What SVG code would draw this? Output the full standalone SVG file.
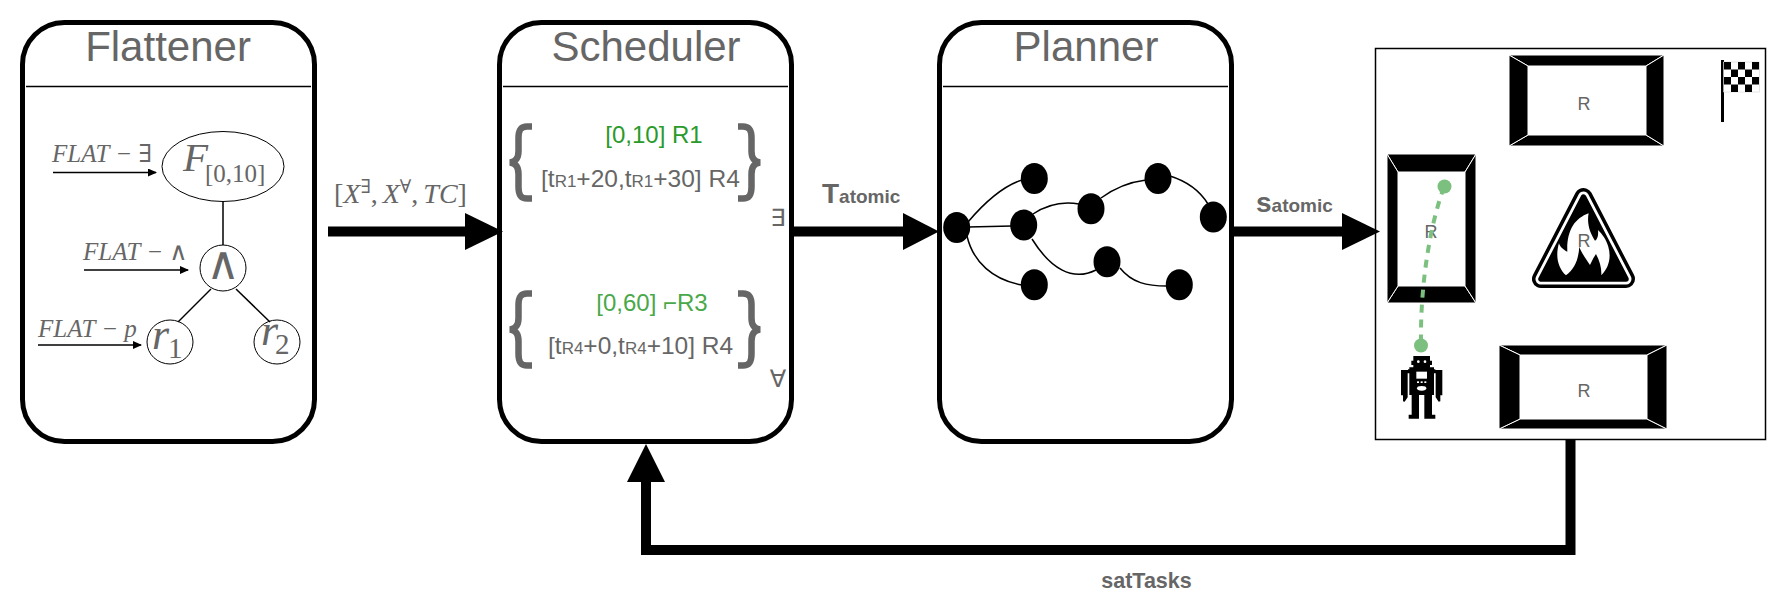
<svg xmlns="http://www.w3.org/2000/svg" width="1780" height="608" viewBox="0 0 1780 608">
<style>
text{font-family:"Liberation Sans",Arial,sans-serif;fill:#666}
.title{font-size:42px;text-anchor:middle}
.box{fill:#fff;stroke:#000;stroke-width:5}
.rule{stroke:#000;stroke-width:1.5;fill:none}
.thin{stroke:#000;stroke-width:1.5;fill:none}
.m{font-family:"Liberation Serif","DejaVu Serif",serif;font-style:italic}
.u{font-family:"Liberation Serif","DejaVu Serif",serif;font-style:normal}
.o{fill:#fff;stroke:#000;stroke-width:1}
.t24{font-size:24px}
.t245{font-size:24.5px}
.sub{font-size:17px}
.brace{fill:none;stroke:#666;stroke-width:6.5}
.shaft{stroke:#000;stroke-width:10;fill:none}
.head{fill:#000;stroke:none}
.bev{fill:#000;stroke:#fff;stroke-width:1}
.R{font-size:18px;text-anchor:middle}
.pn{fill:#000}
.pe{fill:none;stroke:#000;stroke-width:1.5}
.bold{font-weight:bold}
</style>
<defs>
<marker id="small" markerWidth="9" markerHeight="9" refX="8" refY="4" orient="auto" markerUnits="userSpaceOnUse"><path d="M0 0L9 4L0 8Z" fill="#000"/></marker>
<path id="brace" class="brace" d="M532 126.500H527C520 126.500 518.500 131 518.500 138V151C518.500 158 516 161.500 510 162.500C516 163.500 518.500 167 518.500 174V187C518.500 194 520 198.500 527 198.500H532"/>
</defs>
<g id="flattener">
<rect class="box" x="22.5" y="22.5" width="292" height="419" rx="42" ry="42"/>
<text class="title" x="168" y="61">Flattener</text>
<line class="rule" x1="26" y1="86.5" x2="311" y2="86.5"/>
<ellipse class="o" cx="223" cy="166.5" rx="61" ry="35"/>
<line class="thin" x1="223" y1="201" x2="223" y2="245"/>
<circle class="o" cx="223" cy="268" r="23"/>
<ellipse class="o" cx="170" cy="342" rx="23" ry="22"/>
<ellipse class="o" cx="277" cy="342" rx="23" ry="22"/>
<line class="thin" x1="211" y1="289" x2="178" y2="322"/>
<line class="thin" x1="236" y1="289" x2="270" y2="322"/>
<line class="thin" x1="53" y1="172.5" x2="156" y2="172.5" marker-end="url(#small)"/>
<line class="thin" x1="84" y1="270" x2="188" y2="270" marker-end="url(#small)"/>
<line class="thin" x1="38" y1="345" x2="141" y2="345" marker-end="url(#small)"/>
<text class="m" x="52" y="162" font-size="25">FLAT − ∃</text>
<text class="m" x="83" y="260" font-size="25">FLAT − ∧</text>
<text class="m" x="38" y="337" font-size="25">FLAT − p</text>
<text class="m" x="183" y="171" font-size="41">F</text>
<text class="u" x="205" y="182" font-size="25">[0,10]</text>
<text class="u" x="223" y="279" font-size="46" text-anchor="middle">∧</text>
<text class="m" x="152" y="349" font-size="44">r</text>
<text class="u" x="168" y="358" font-size="29">1</text>
<text class="m" x="261" y="345" font-size="44">r</text>
<text class="u" x="275" y="354" font-size="29">2</text>
</g>
<g id="scheduler">
<rect class="box" x="499.5" y="22.5" width="292" height="419" rx="42" ry="42"/>
<text class="title" x="646" y="61">Scheduler</text>
<line class="rule" x1="503" y1="86.5" x2="788" y2="86.5"/>
<use href="#brace"/>
<use href="#brace" transform="translate(1270 0) scale(-1 1)"/>
<use href="#brace" transform="translate(0 167)"/>
<use href="#brace" transform="translate(1270 167) scale(-1 1)"/>
<text class="t24" x="654" y="143" text-anchor="middle" style="fill:#2a9a2a">[0,10] R1</text>
<text class="t245" x="541" y="187">[t<tspan class="sub">R1</tspan>+20,t<tspan class="sub">R1</tspan>+30] R4</text>
<text class="t24" x="652" y="311" text-anchor="middle" style="fill:#4aa84a">[0,60] ⌐R3</text>
<text class="t245" x="548" y="354">[t<tspan class="sub">R4</tspan>+0,t<tspan class="sub">R4</tspan>+10] R4</text>
<text x="778" y="226" font-size="24" text-anchor="middle" style="font-family:'DejaVu Sans',sans-serif">∃</text>
<text x="778" y="387" font-size="24" text-anchor="middle" style="font-family:'DejaVu Sans',sans-serif">∀</text>
</g>
<g id="planner">
<rect class="box" x="939.500" y="22.500" width="292" height="419" rx="42" ry="42"/>
<text class="title" x="1086" y="61">Planner</text>
<line class="rule" x1="943" y1="86.500" x2="1228" y2="86.500"/>
<g id="plan-edges">
<path class="pe" d="M968 222C985 202 1003 186 1022 180"/>
<line class="pe" x1="968" y1="227" x2="1012" y2="226"/>
<path class="pe" d="M967 236C973 262 993 280 1022 285"/>
<path class="pe" d="M1033 214C1048 204 1062 201 1079 204"/>
<path class="pe" d="M1032 239C1050 268 1072 282 1096 270"/>
<path class="pe" d="M1101 198C1116 187 1130 182 1146 180"/>
<path class="pe" d="M1170 176C1186 181 1200 191 1208 204"/>
<path class="pe" d="M1120 268C1132 283 1147 286 1167 286"/>
</g>
<ellipse class="pn" cx="956.700" cy="227.500" rx="13.500" ry="15.500"/>
<ellipse class="pn" cx="1034.300" cy="178.500" rx="13.500" ry="15.500"/>
<ellipse class="pn" cx="1023.700" cy="225" rx="13.500" ry="15.500"/>
<ellipse class="pn" cx="1034.300" cy="284.700" rx="13.500" ry="15.500"/>
<ellipse class="pn" cx="1091" cy="208.700" rx="13.500" ry="15.500"/>
<ellipse class="pn" cx="1158" cy="178.500" rx="13.500" ry="15.500"/>
<ellipse class="pn" cx="1213.300" cy="217" rx="13.500" ry="15.500"/>
<ellipse class="pn" cx="1107" cy="261.700" rx="13.500" ry="15.500"/>
<ellipse class="pn" cx="1179.300" cy="284.700" rx="13.500" ry="15.500"/>
</g>
<g id="world">
<rect x="1375.500" y="48.500" width="390" height="391" fill="#fff" stroke="#000" stroke-width="1.500"/>
<g id="room-top">
<polygon class="bev" points="1509,55 1664,55 1646,66 1528,66"/>
<polygon class="bev" points="1509,146 1664,146 1646,135 1528,135"/>
<polygon class="bev" points="1509,55 1528,66 1528,135 1509,146"/>
<polygon class="bev" points="1664,55 1646,66 1646,135 1664,146"/>
<text class="R" x="1584" y="110">R</text>
</g>
<g id="room-left">
<polygon class="bev" points="1387,154 1476,154 1465,172 1398,172"/>
<polygon class="bev" points="1387,303 1476,303 1465,286 1398,286"/>
<polygon class="bev" points="1387,154 1398,172 1398,286 1387,303"/>
<polygon class="bev" points="1476,154 1465,172 1465,286 1476,303"/>
<text class="R" x="1431" y="238">R</text>
</g>
<g id="room-bottom">
<polygon class="bev" points="1499,345 1667,345 1647,355 1520,355"/>
<polygon class="bev" points="1499,429 1667,429 1647,419 1520,419"/>
<polygon class="bev" points="1499,345 1520,355 1520,419 1499,429"/>
<polygon class="bev" points="1667,345 1647,355 1647,419 1667,429"/>
<text class="R" x="1584" y="397">R</text>
</g>
<g id="fire">
<polygon points="1583.500,197 1541,279 1626,279" fill="#000" stroke="#000" stroke-width="18" stroke-linejoin="round"/>
<polygon points="1583.500,197 1541,279 1626,279" fill="#000" stroke="#fff" stroke-width="11" stroke-linejoin="round"/>
<polygon points="1583.500,197 1541,279 1626,279" fill="#000" stroke="#000" stroke-width="5.500" stroke-linejoin="round"/>
<path transform="translate(1360 30) scale(.3333)" fill="#fff" d="M686 550C645 565 620 600 622 665C610 660 600 650 597 640C585 680 595 715 618 736C645 715 655 690 658 650C665 670 680 690 690 705L700 685L708 672C720 695 725 715 724 736C745 715 755 685 745 650C740 630 725 610 714 600C716 615 712 630 705 632C690 610 680 580 686 550Z"/>
<text class="R" x="1584" y="247">R</text>
</g>
<g id="flag">
<rect x="1721" y="60" width="3" height="62" fill="#000"/>
<rect x="1723.500" y="62" width="36" height="30" fill="#fff" stroke="#ccc" stroke-width=".5"/>
<path fill="#000" d="M1724 62h7v7.500h-7zM1738 62h7v7.500h-7zM1752 62h7v7.500h-7zM1731 69.500h7v7.500h-7zM1745 69.500h7v7.500h-7zM1724 77h7v7.500h-7zM1738 77h7v7.500h-7zM1752 77h7v7.500h-7zM1731 84.500h7v7.500h-7zM1745 84.500h7v7.500h-7z"/>
</g>
<g id="robot" transform="translate(1380 320) scale(.3333)">
<path fill="#000" d="M100 108H150V122H156V135H150V142H162V148H166V150H187V226H181V244L176 245L167 232V160H162V225H156V284H166V296H133V225H117V296H86V284H95V225H88V160H83V232L74 245L69 244V226H63V150H84V148H88V142H100V135H94V122H100Z"/>
<circle cx="115" cy="125" r="4" fill="#fff"/><circle cx="135" cy="125" r="4" fill="#fff"/>
<rect x="109" y="155" width="32" height="21" fill="#fff"/>
<rect x="111" y="184" width="6" height="5" fill="#fff"/><rect x="122" y="184" width="6" height="5" fill="#fff"/><rect x="133" y="184" width="6" height="5" fill="#fff"/>
<ellipse cx="125" cy="205" rx="14" ry="7" fill="#fff"/>
</g>
<g id="trajectory">
<path d="M1444 187C1430 225 1420 285 1421 345" fill="none" stroke="#7bc07f" stroke-width="4" stroke-dasharray="8 7"/>
<circle cx="1444.500" cy="186.500" r="7" fill="#7bc07f"/>
<circle cx="1421" cy="345.500" r="7" fill="#7bc07f"/>
</g>
</g>
<g id="connectors">
<line class="shaft" x1="328" y1="231.500" x2="466" y2="231.500"/>
<polygon class="head" points="465,213 503,231.500 465,250"/>
<line class="shaft" x1="794" y1="231.500" x2="904" y2="231.500"/>
<polygon class="head" points="903,213 939,231.500 903,250"/>
<line class="shaft" x1="1230" y1="231.500" x2="1343" y2="231.500"/>
<polygon class="head" points="1342,213 1380,231.500 1342,250"/>
<path class="shaft" d="M1570.500 440V550H646V481"/>
<polygon class="head" points="627,482 665,482 646,444"/>
</g>
<g id="labels">
<text class="u" x="334" y="203" font-size="28">[<tspan class="m">X</tspan><tspan font-size="19" dy="-10">∃</tspan><tspan dy="10">,</tspan><tspan class="m" dx="5">X</tspan><tspan font-size="19" dy="-10">∀</tspan><tspan dy="10">,</tspan><tspan class="m" dx="5">TC</tspan>]</text>
<text class="bold" x="822" y="203" font-size="28">T<tspan font-size="19">atomic</tspan></text>
<text class="bold" x="1256" y="212" font-size="28">s<tspan font-size="19">atomic</tspan></text>
<text class="bold" x="1146.500" y="588" font-size="21.5" text-anchor="middle">satTasks</text>
</g>
</svg>
